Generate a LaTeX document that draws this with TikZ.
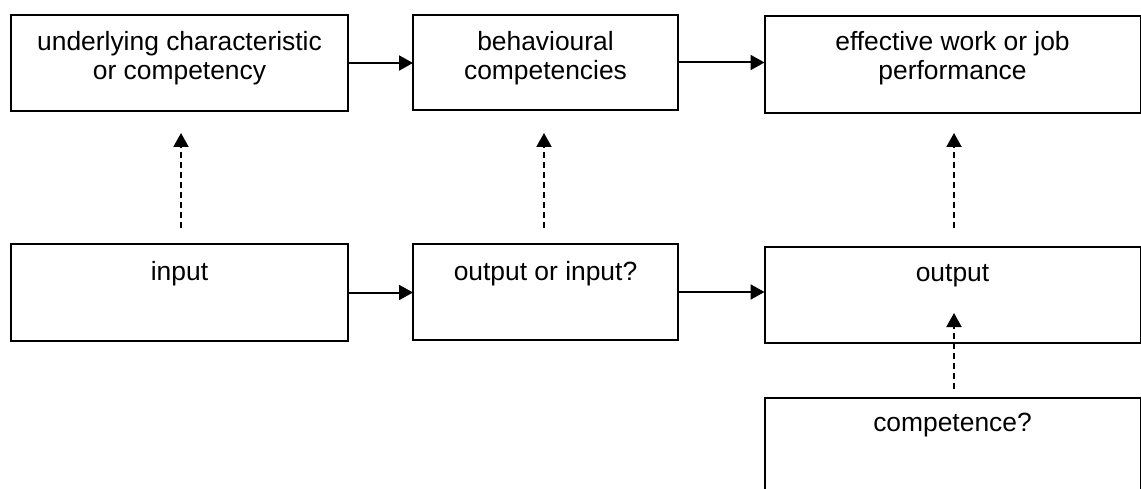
\documentclass[tikz,border=0pt]{standalone}
\usepackage{fontspec}
\setmainfont{Liberation Sans}
\usetikzlibrary{arrows.meta,calc}
\begin{document}
\begin{tikzpicture}[x=1pt,y=-1pt,
  box/.style={draw=black, line width=2pt, inner sep=0pt, outer sep=0pt},
  lbl/.style={inner sep=0pt, outer sep=0pt, align=center, anchor=north,
    font=\fontsize{26.4pt}{29pt}\selectfont},
  flow/.style={line width=2pt, -{Triangle[length=14pt,width=15pt]}},
  hint/.style={flow, dash pattern=on 6pt off 4pt}
]
\useasboundingbox (0,0) rectangle (1141,489);
\clip (0,0) rectangle (1141,489);

% upper row
\node[box, minimum width=337pt, minimum height=96pt] (b1) at (179.5,63) {};
\node[box, minimum width=265pt, minimum height=95pt] (b2) at (545.5,62.5) {};
\node[box, minimum width=376pt, minimum height=97pt] (b3) at (952.5,64.5) {};
% lower row
\node[box, minimum width=337pt, minimum height=97pt] (b4) at (179.5,292.5) {};
\node[box, minimum width=265pt, minimum height=96pt] (b5) at (545.5,292) {};
\node[box, minimum width=376pt, minimum height=96pt] (b6) at (952.5,295) {};
% bottom box, running past the lower edge
\node[box, minimum width=376pt, minimum height=96pt] (b7) at (952.5,446) {};

% texts
\node[lbl] (t1) at (179.5,31) {underlying characteristic\\or competency};
\node[lbl] (t2) at (545.5,31) {behavioural\\competencies};
\node[lbl] (t3) at (952.5,31) {effective work or job\\performance};
\node[lbl] (t4) at (179.5,261) {input};
\node[lbl] (t5) at (545.5,261) {output or input?};
\node[lbl] (t6) at (952.5,264) {output};
\node[lbl] (t7) at (952.5,413.5) {competence?};

% solid flow arrows
\draw[flow] (b1.east) -- (b1.east -| b2.west);
\draw[flow] (b2.east) -- (b2.east -| b3.west);
\draw[flow] (b4.east) -- (b4.east -| b5.west);
\draw[flow] (b5.east) -- (b5.east -| b6.west);

% dashed arrows
\draw[hint, shorten <=16pt, shorten >=22pt] ($(b4.north)+(1.5,0)$) -- ($(b1.south)+(1.5,0)$);
\draw[hint, shorten <=16pt, shorten >=23pt] ($(b5.north)+(-1.5,0)$) -- ($(b2.south)+(-1.5,0)$);
\draw[hint, shorten <=19pt, shorten >=20pt] ($(b6.north)+(1.5,0)$) -- ($(b3.south)+(1.5,0)$);
\draw[hint, shorten <=9pt, shorten >=18pt] ($(b7.north)+(1.5,0)$) -- ($(b6.center)+(1.5,0)$);
\end{tikzpicture}
\end{document}
